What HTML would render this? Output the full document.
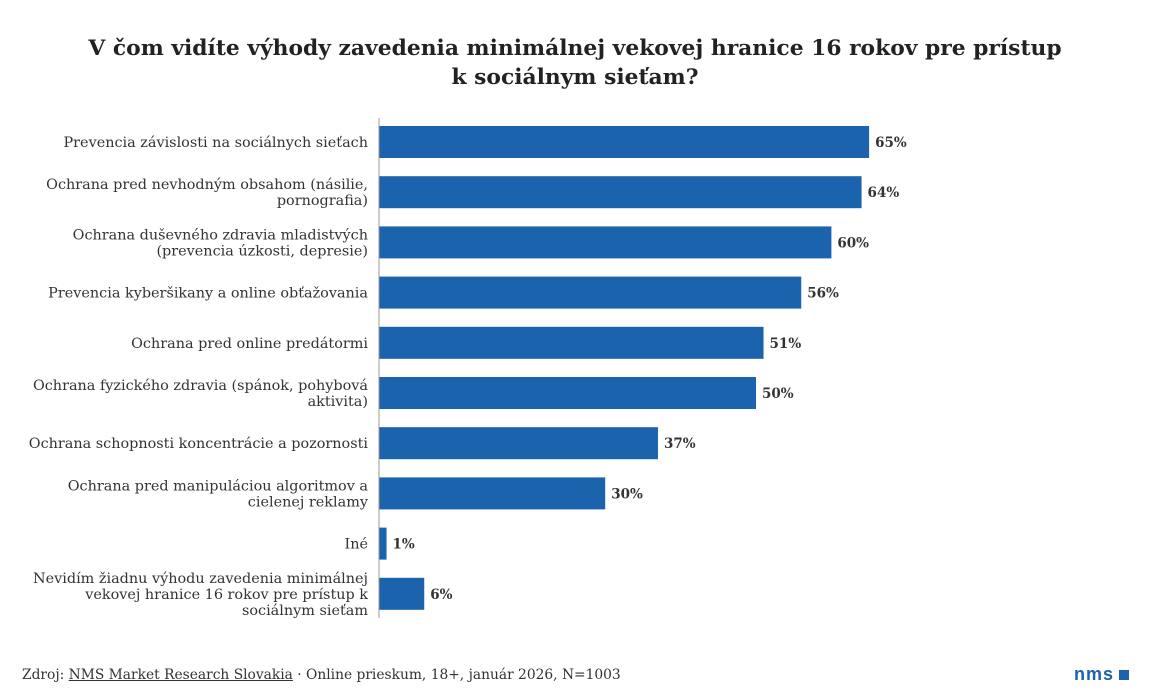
<!DOCTYPE html>
<html><head><meta charset="utf-8"><style>
body{margin:0;background:#fff;width:1150px;height:698px;overflow:hidden;font-family:"DejaVu Serif",serif;color:#333}
#title{position:absolute;left:0;width:1150px;top:34px;text-align:center;font-weight:bold;font-size:21.8px;line-height:29px;color:#222}
#footer{position:absolute;left:22px;top:667px;font-size:13.8px;color:#333}
#logo{position:absolute;left:1074px;top:664px;font-family:"Liberation Sans",sans-serif;font-weight:bold;font-size:18px;color:#1b63ad;letter-spacing:1px}
</style></head><body>
<div id="title">V čom vidíte výhody zavedenia minimálnej vekovej hranice 16 rokov pre prístup<br>k sociálnym sieťam?</div>
<svg id="chart" width="1150" height="698" style="position:absolute;left:0;top:0"></svg>
<div id="footer">Zdroj: <u>NMS Market Research Slovakia</u> · Online prieskum, 18+, január 2026, N=1003</div>
<div id="logo">nms<span style="display:inline-block;width:10px;height:10px;background:#1b63ad;margin-left:5px"></span></div>
<script>
const categories=[["Prevencia závislosti na sociálnych sieťach"],["Ochrana pred nevhodným obsahom (násilie,","pornografia)"],["Ochrana duševného zdravia mladistvých","(prevencia úzkosti, depresie)"],["Prevencia kyberšikany a online obťažovania"],["Ochrana pred online predátormi"],["Ochrana fyzického zdravia (spánok, pohybová","aktivita)"],["Ochrana schopnosti koncentrácie a pozornosti"],["Ochrana pred manipuláciou algoritmov a","cielenej reklamy"],["Iné"],["Nevidím žiadnu výhodu zavedenia minimálnej","vekovej hranice 16 rokov pre prístup k","sociálnym sieťam"]];
const values=[65,64,60,56,51,50,37,30,1,6];
const svg=document.getElementById('chart');
const NS='http://www.w3.org/2000/svg';
const x0=379,pxPer=7.54,y0=142,step=50.2,bh=32;
const xs=v=>x0+v*pxPer;
const ys=i=>y0+i*step;
function mk(t,a){const e=document.createElementNS(NS,t);for(const k in a)e.setAttribute(k,a[k]);svg.appendChild(e);return e;}
values.forEach((v,i)=>{
 const r=mk('rect',{x:x0,y:ys(i)-bh/2,width:xs(v)-x0,height:bh,fill:'#1b63ad'});
 
 
 const t=mk('text',{x:xs(v)+6,y:ys(i)+5,'font-size':13.5,'font-weight':'bold',fill:'#333','font-family':'DejaVu Serif, serif'});
 t.textContent=v+'%';
 
 
 const lines=categories[i];const lh=16;const start=ys(i)+5-(lines.length-1)*lh/2;
 lines.forEach((l,j)=>{
  const c=mk('text',{x:368,y:start+j*lh,'text-anchor':'end','font-size':14.4,fill:'#333','font-family':'DejaVu Serif, serif'});
  c.textContent=l;
  
  
 });
});
const ax=mk('line',{x1:x0,x2:x0,y1:118,y2:618,stroke:'#999','stroke-width':1});


</script>
</body></html>
